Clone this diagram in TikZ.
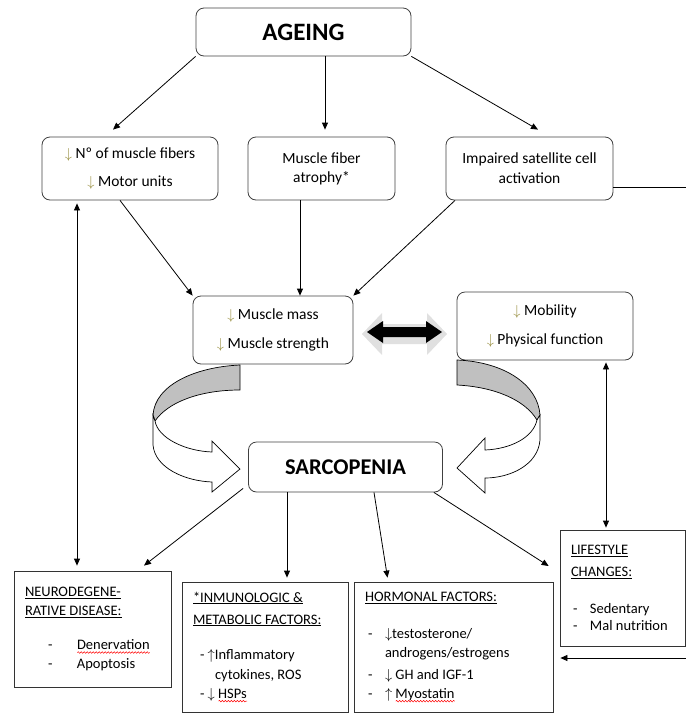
\documentclass[tikz,border=0pt]{standalone}
\usepackage{fontspec}
\setmainfont{Carlito}
\usepackage{tikz}
\usetikzlibrary{arrows.meta,calc,decorations.pathmorphing}

\definecolor{arrowcol}{RGB}{150,140,60}
\definecolor{ribbongray}{RGB}{192,192,192}

\newsavebox{\wavebox}
\newcommand{\redwave}[1]{\sbox{\wavebox}{#1}\rlap{\usebox{\wavebox}}%
    \tikz[baseline=0pt]\draw[red, line width=0.5pt, decorate,
        decoration={snake, amplitude=0.8pt, segment length=3pt}]
        (0pt,-3pt) -- (\wd\wavebox,-3pt);}
\newcommand{\dn}{\textcolor{arrowcol}{$\downarrow$}}

\begin{document}
\begin{tikzpicture}[x=1pt, y=-1pt, >={Triangle[length=7pt,width=6pt]},
    rbox/.style={draw=black!75, line width=0.8pt, rounded corners=8pt, align=center,
        inner sep=0pt, font=\fontsize{15.5}{19}\selectfont},
    sbox/.style={draw=black!80, line width=0.8pt, align=flush left, inner xsep=11pt, inner ysep=0pt,
        font=\fontsize{14.5}{19}\selectfont},
    link/.style={->, line width=0.8pt}]
    \clip (0,0) rectangle (686,713);

    % Kopfbox
    \node[rbox, minimum width=215pt, minimum height=48pt, font=\fontsize{25}{30}\selectfont\bfseries]
        (ageing) at (303.5,32) {AGEING};

    % erste Reihe
    \node[rbox, minimum width=176pt, minimum height=63pt] (fibers) at (130,168.5)
        {\dn{} Nº of muscle fibers\\[9pt]\dn{} Motor units};
    \node[rbox, minimum width=147pt, minimum height=63pt] (atrophy) at (321.5,168.5)
        {Muscle fiber\\atrophy*};
    \node[rbox, minimum width=167pt, minimum height=63pt] (satellite) at (529.5,168.5)
        {Impaired satellite cell\\[1pt]activation};

    % zweite Reihe
    \node[rbox, minimum width=160pt, minimum height=68pt] (mass) at (273,330)
        {\dn{} Muscle mass\\[10pt]\dn{} Muscle strength};
    \node[rbox, minimum width=176pt, minimum height=68pt] (mobility) at (545,326)
        {\dn{} Mobility\\[10pt]\dn{} Physical function};

    % Mitte
    \node[rbox, minimum width=194pt, minimum height=50pt, font=\fontsize{22.5}{27}\selectfont\bfseries]
        (sarco) at (345.5,467) {SARCOPENIA};

    % untere Kaesten
    \node[sbox, text width=135pt, minimum height=116pt] (neuro) at (92.5,629)
        {\underline{NEURODEGENE-}\\\underline{RATIVE DISEASE:}\\[15pt]
         \hspace*{23pt}\makebox[29pt][l]{-}\redwave{Denervation}\\
         \hspace*{23pt}\makebox[29pt][l]{-}Apoptosis};
    \node[sbox, text width=144pt, minimum height=130pt] (inmuno) at (265,647)
        {\underline{*INMUNOLOGIC \&}\\[3pt]\underline{METABOLIC FACTORS:}\\[16pt]
         \hspace*{7pt}- $\uparrow$Inflammatory\\[1pt]
         \hspace*{22pt}cytokines, ROS\\
         \hspace*{7pt}- $\downarrow$ \redwave{HSPs}};
    \node[sbox, text width=177pt, minimum height=130pt] (hormonal) at (453.5,647)
        {\underline{HORMONAL FACTORS:}\\[18pt]
         \hspace*{3pt}\makebox[17pt][l]{-}$\downarrow$testosterone/\\
         \hspace*{20pt}androgens/estrogens\\[3pt]
         \hspace*{3pt}\makebox[17pt][l]{-}$\downarrow$ GH and IGF-1\\
         \hspace*{3pt}\makebox[17pt][l]{-}$\uparrow$ \redwave{Myostatin}};
    \node[sbox, text width=103pt, minimum height=116pt] (lifestyle) at (622.5,588)
        {\underline{LIFESTYLE}\\[3pt]\underline{CHANGES:}\\[18pt]
         \hspace*{2pt}\makebox[17pt][l]{-}Sedentary\\[-2pt]
         \hspace*{2pt}\makebox[17pt][l]{-}Mal nutrition};

    \coordinate (outright) at (690,187);
    \coordinate (inright) at (690,658);

    % Pfeile von AGEING
    \draw[link] (ageing.south west) -- ([xshift=-17pt,yshift=7pt]fibers.north);
    \draw[link] ([xshift=21.5pt]ageing.south) -- ([xshift=3.5pt,yshift=7pt]atrophy.north);
    \draw[link] (ageing.south east) -- ([xshift=8.5pt,yshift=7pt]satellite.north);

    % Pfeile zur Muskelmasse
    \draw[link] ([xshift=-10pt]fibers.south) -- (mass.north west);
    \draw[link] ([xshift=-21.5pt]atrophy.south) -- ([xshift=27pt]mass.north);
    \draw[link] ([xshift=-74.5pt]satellite.south) -- (mass.north east);
    \draw[line width=0.8pt] ([yshift=-18.5pt]satellite.east) -- (outright);

    % Pfeile von SARCOPENIA
    \draw[link] ([xshift=-5pt,yshift=4pt]sarco.south west) -- ([xshift=51.5pt,yshift=5pt]neuro.north);
    \draw[link] ([xshift=-58.5pt]sarco.south) -- ([xshift=22pt,yshift=4pt]inmuno.north);
    \draw[link] ([xshift=28.5pt]sarco.south) -- ([xshift=-66pt,yshift=4pt]hormonal.north);
    \draw[link] ([xshift=-9pt]sarco.south east) -- ([xshift=-11pt,yshift=22pt]lifestyle.west);

    % Doppelpfeile
    \draw[<->, line width=0.8pt, shorten <=3pt, shorten >=5pt]
        ([xshift=-53pt]fibers.south) -- ([xshift=-15.5pt]neuro.north);
    \draw[<->, line width=0.8pt, shorten <=2pt, shorten >=2pt]
        ([xshift=61pt]mobility.south) -- ([xshift=-16.5pt]lifestyle.north);
    \draw[link, shorten >=7pt] (inright) -- (inright -| hormonal.east);

    % dicker Doppelpfeil zwischen Muskelmasse und Mobilitaet
    \fill[black!12] (362,334) -- (382,313) -- (382,324) -- (427,324) -- (427,313) -- (447,334)
        -- (427,355) -- (427,344) -- (382,344) -- (382,355) -- cycle;
    \fill[black] (367,332) -- (383,321) -- (383,327) -- (426,327) -- (426,321) -- (442,332)
        -- (426,343) -- (426,337) -- (383,337) -- (383,343) -- cycle;

    % gebogener Pfeil links
    \draw[line width=0.7pt, fill=ribbongray] (240,365) .. controls (195,367) and (155,385) .. (153,415)
        -- (155,421) .. controls (168,402) and (200,390) .. (240,390) -- cycle;
    \draw[line width=0.7pt, fill=white] (153,415) -- (153,445) .. controls (155,468) and (185,481) .. (212,482)
        -- (212,492) -- (240,469) -- (212,441) -- (212,452)
        .. controls (185,451) and (158,438) .. (155,421) -- cycle;

    % gebogener Pfeil rechts
    \draw[line width=0.7pt, fill=ribbongray] (457,360) .. controls (505,362) and (538,385) .. (540,415)
        -- (537,420) .. controls (525,400) and (495,387) .. (457,385) -- cycle;
    \draw[line width=0.7pt, fill=white] (540,415) -- (540,440) .. controls (538,465) and (510,478) .. (485,478)
        -- (485,493) -- (457,468) -- (485,438) -- (485,450)
        .. controls (510,449) and (533,438) .. (537,420) -- cycle;
\end{tikzpicture}
\end{document}
